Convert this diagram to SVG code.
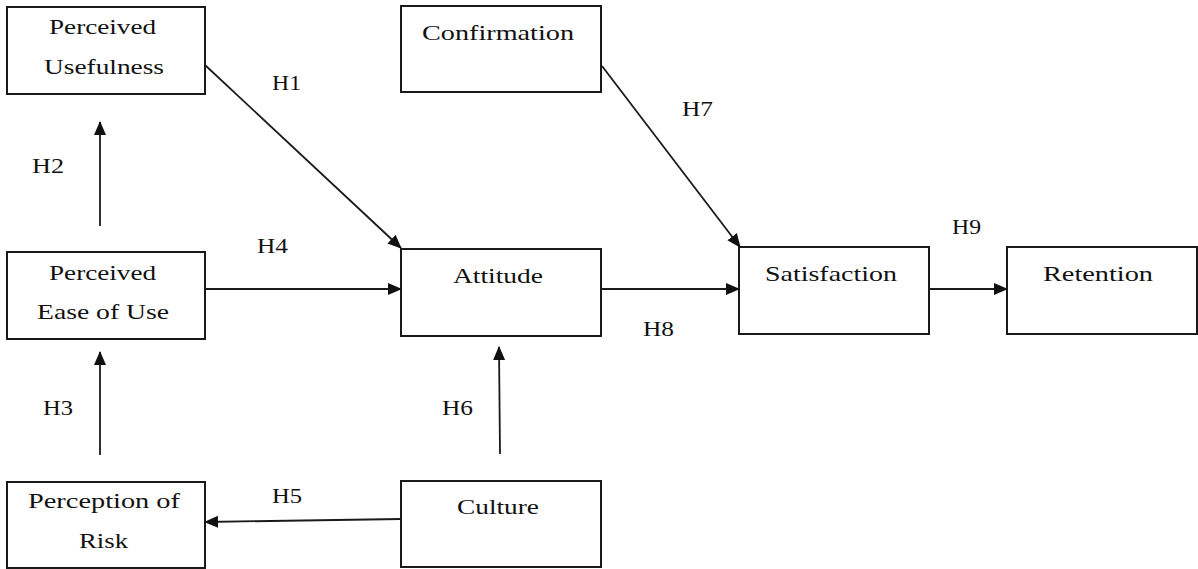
<svg xmlns="http://www.w3.org/2000/svg" width="1198" height="569" viewBox="0 0 1198 569">
<style>
.box{fill:#fff;stroke:#1a1a1a;stroke-width:2}
.t{font-family:"Liberation Serif","Times New Roman",serif;font-size:22px;fill:#111}
.c{stroke:#1a1a1a;stroke-width:1.8;fill:none;marker-end:url(#ah)}
</style>
<defs>
<marker id="ah" markerUnits="userSpaceOnUse" markerWidth="14" markerHeight="12" refX="13" refY="6" orient="auto">
<path d="M0,0 L14,6 L0,12 z" fill="#111"/>
</marker>
</defs>
<rect width="1198" height="569" fill="#fff"/>
<g id="pu"><rect class="box" x="7" y="7" width="198" height="87"/>
<text class="t" x="49" y="34" textLength="107" lengthAdjust="spacingAndGlyphs">Perceived</text>
<text class="t" x="44" y="74" textLength="120" lengthAdjust="spacingAndGlyphs">Usefulness</text></g>
<g id="conf"><rect class="box" x="401" y="6" width="200" height="86"/>
<text class="t" x="422" y="40" textLength="152" lengthAdjust="spacingAndGlyphs">Confirmation</text></g>
<g id="peou"><rect class="box" x="7" y="252" width="198" height="87"/>
<text class="t" x="49" y="280" textLength="107" lengthAdjust="spacingAndGlyphs">Perceived</text>
<text class="t" x="37" y="319" textLength="132" lengthAdjust="spacingAndGlyphs">Ease of Use</text></g>
<g id="att"><rect class="box" x="401" y="249" width="200" height="87"/>
<text class="t" x="453" y="283" textLength="90" lengthAdjust="spacingAndGlyphs">Attitude</text></g>
<g id="sat"><rect class="box" x="739" y="247" width="190" height="87"/>
<text class="t" x="765" y="281" textLength="132" lengthAdjust="spacingAndGlyphs">Satisfaction</text></g>
<g id="ret"><rect class="box" x="1007" y="247" width="190" height="87"/>
<text class="t" x="1043" y="281" textLength="110" lengthAdjust="spacingAndGlyphs">Retention</text></g>
<g id="por"><rect class="box" x="7" y="482" width="198" height="86"/>
<text class="t" x="28" y="508" textLength="152" lengthAdjust="spacingAndGlyphs">Perception of</text>
<text class="t" x="79" y="548" textLength="49" lengthAdjust="spacingAndGlyphs">Risk</text></g>
<g id="cul"><rect class="box" x="401" y="481" width="200" height="86"/>
<text class="t" x="457" y="514" textLength="82" lengthAdjust="spacingAndGlyphs">Culture</text></g>
<g id="connectors">
<line class="c" x1="205" y1="65" x2="401" y2="248"/>
<line class="c" x1="100" y1="226" x2="100" y2="122"/>
<line class="c" x1="205" y1="289" x2="401" y2="289"/>
<line class="c" x1="100" y1="455" x2="100" y2="352"/>
<line class="c" x1="401" y1="519" x2="205" y2="522"/>
<line class="c" x1="500" y1="454" x2="499" y2="347"/>
<line class="c" x1="602" y1="66" x2="740" y2="247"/>
<line class="c" x1="601" y1="289" x2="739" y2="289"/>
<line class="c" x1="929" y1="289" x2="1007" y2="289"/>
</g>
<g id="labels">
<text class="t" x="272" y="90" textLength="29" lengthAdjust="spacingAndGlyphs">H1</text>
<text class="t" x="32" y="173" textLength="32" lengthAdjust="spacingAndGlyphs">H2</text>
<text class="t" x="43" y="415" textLength="30" lengthAdjust="spacingAndGlyphs">H3</text>
<text class="t" x="257" y="253" textLength="31" lengthAdjust="spacingAndGlyphs">H4</text>
<text class="t" x="272" y="503" textLength="30" lengthAdjust="spacingAndGlyphs">H5</text>
<text class="t" x="442" y="415" textLength="31" lengthAdjust="spacingAndGlyphs">H6</text>
<text class="t" x="682" y="116" textLength="31" lengthAdjust="spacingAndGlyphs">H7</text>
<text class="t" x="643" y="336" textLength="31" lengthAdjust="spacingAndGlyphs">H8</text>
<text class="t" x="952" y="234" textLength="29" lengthAdjust="spacingAndGlyphs">H9</text>
</g>
</svg>
